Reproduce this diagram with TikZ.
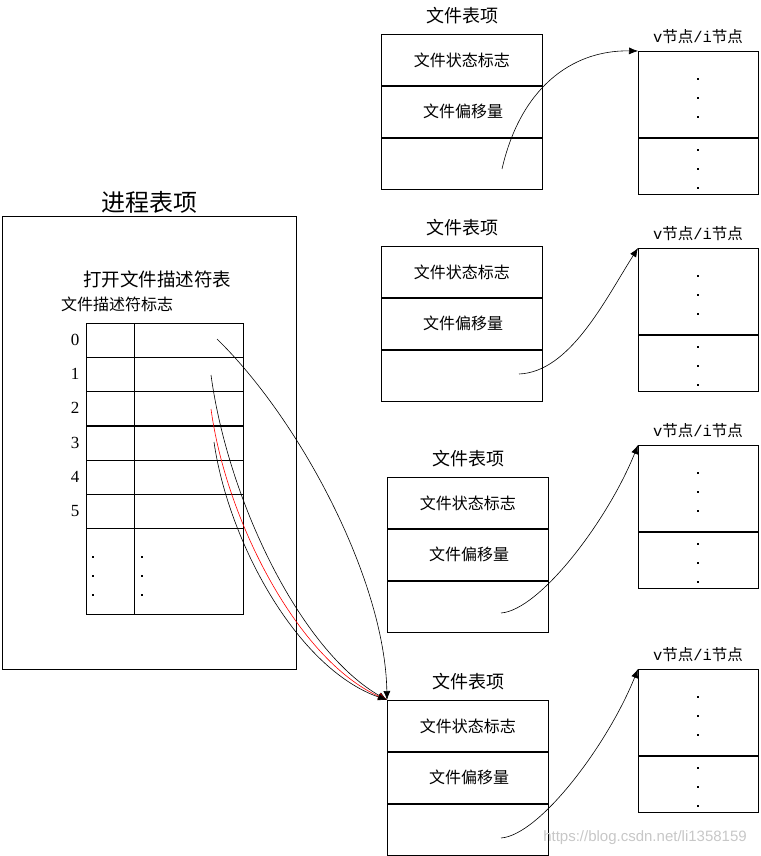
\documentclass[tikz,border=0pt]{standalone}
\usepackage{fontspec}
\setmainfont{Liberation Serif}
\newfontfamily\cjk{Noto Sans CJK SC}
\newfontfamily\wmfont{Liberation Sans}
\newfontfamily\mono{Liberation Mono}
\usetikzlibrary{arrows.meta}
\begin{document}
\begin{tikzpicture}[x=1pt,y=-1pt,
  box/.style={draw, line width=0.8pt, inner sep=0pt, anchor=north west},
  cell/.style={box, font=\cjk\fontsize{16}{16}\selectfont},
  ftitle/.style={inner sep=0pt, font=\cjk\fontsize{18}{18}\selectfont},
  vtitle/.style={inner sep=0pt, font=\cjk\fontsize{15.5}{15.5}\selectfont},
  num/.style={inner sep=0pt, font=\fontsize{17}{17}\selectfont},
  link/.style={line width=0.6pt, -{Latex[length=9pt,width=7pt]}},
  dotmark/.style={fill=black},
]
\useasboundingbox (0,0) rectangle (760,856);

% ---------- process entry ----------
\node[box, minimum width=294pt, minimum height=453pt] (proc) at (2,216) {};
\node[inner sep=0pt, font=\cjk\fontsize{24}{24}\selectfont] (proct) at (149,202) {进程表项};
\node[inner sep=0pt, font=\cjk\fontsize{18.5}{18.5}\selectfont] (fdt) at (157,279) {打开文件描述符表};
\node[inner sep=0pt, anchor=west, font=\cjk\fontsize{16}{16}\selectfont] (fdf) at (61,304) {文件描述符标志};

% fd table
\foreach \i/\y in {0/323,1/357,2/391,3/426,4/460,5/494}{
  \node[box, minimum width=48pt, minimum height=34pt] (l\i) at (86,\y) {};
  \node[box, minimum width=109pt, minimum height=34pt] (r\i) at (134,\y) {};
  \node[num] (n\i) at (75,\y+17) {\i};
}
\node[box, minimum width=48pt, minimum height=86pt] (l6) at (86,528) {};
\node[box, minimum width=109pt, minimum height=86pt] (r6) at (134,528) {};
\foreach \y in {556,575,594}{
  \fill[dotmark] (92,\y) rectangle (94.4,\y+2.4);
  \fill[dotmark] (141,\y) rectangle (143.4,\y+2.4);
}

% ---------- file table entries ----------
\foreach \n/\x/\y in {1/381/34, 2/381/246, 3/387/477, 4/387/700}{
  \node[cell, minimum width=161pt, minimum height=51pt] (f\n a) at (\x,\y) {文件状态标志};
  \node[cell, minimum width=161pt, minimum height=51pt] (f\n b) at (f\n a.south west) {\,文件偏移量};
  \node[cell, minimum width=161pt, minimum height=51pt] (f\n c) at (f\n b.south west) {};
  \node[ftitle] (f\n t) at (\x+81,\y-18) {文件表项};
}

% ---------- v-node / i-node ----------
\foreach \n/\y in {1/51, 2/248, 3/445, 4/669}{
  \node[box, minimum width=120pt, minimum height=86pt] (v\n a) at (638,\y) {};
  \node[box, minimum width=120pt, minimum height=56pt] (v\n b) at (v\n a.south west) {};
  \node[vtitle] (v\n t) at (698,\y-14) {{\mono v}节点{\mono /i}节点};
  \foreach \d in {28,47,66,99,118,137}{
    \fill[dotmark] (697,\y+\d-1.2) rectangle (699.4,\y+\d+1.2);
  }
}

% ---------- arrows: file entry -> v-node ----------
\coordinate (p1) at (502,169);
\coordinate (p2) at (519,374);
\coordinate (p3) at (501,613);
\coordinate (p4) at (501,838);
\draw[link] (p1) .. controls (520,90) and (570,50) .. (v1a.north west);
\draw[link] (p2) .. controls (570,372) and (605,300) .. (v2a.north west);
\draw[link] (p3) .. controls (540,610) and (608,520) .. (v3a.north west);
\draw[link] (p4) .. controls (540,835) and (608,744) .. (v4a.north west);

% ---------- arrows: fd table -> file entry 4 ----------
\coordinate (s0) at (217,339);
\coordinate (s1) at (211,375);
\coordinate (s2) at (211,409);
\coordinate (s3) at (214,442);
\draw[link] (s0) .. controls (300,420) and (385,580) .. (f4a.north west);
\draw[link] (s1) .. controls (228,500) and (300,650) .. (f4a.north west);
\draw[link, red] (s2) .. controls (226,520) and (298,660) .. (f4a.north west);
\draw[link] (s3) .. controls (228,540) and (296,668) .. (f4a.north west);

% watermark
\node[inner sep=0pt, text=black!22, font=\wmfont\fontsize{15}{15}\selectfont] (wm) at (645,838) {https://blog.csdn.net/li1358159};
\end{tikzpicture}
\end{document}
